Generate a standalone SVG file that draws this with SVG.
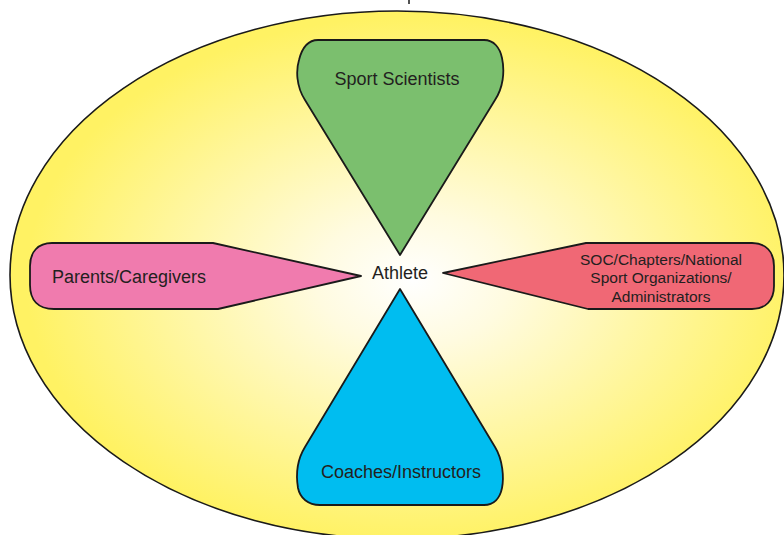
<svg xmlns="http://www.w3.org/2000/svg" width="784" height="535" viewBox="0 0 784 535">
<style>
.shape{stroke:#1a1a1a;stroke-width:1.8;stroke-linejoin:round}
.lbl{font-family:"Liberation Sans","Open Sans",sans-serif;font-size:18px;fill:#231f20;text-anchor:middle}
.sm{font-size:15.5px}
</style>
<defs>
<radialGradient id="bg" cx="0.52" cy="0.51" r="0.5">
<stop offset="0" stop-color="#ffffff"/>
<stop offset="0.25" stop-color="#fffbe0"/>
<stop offset="1" stop-color="#fff263"/>
</radialGradient>
</defs>
<rect width="784" height="535" fill="#ffffff"/>
<line x1="409" y1="0" x2="409" y2="4" stroke="#1a1a1a" stroke-width="1.5"/>
<g id="background">
<ellipse cx="397" cy="275" rx="387" ry="264" fill="url(#bg)" stroke="#1a1a1a" stroke-width="1.6"/>
</g>
<g id="sport-scientists">
<path class="shape" fill="#7bbf6e" d="M400 255 L305 100 C296 86 296 70 299 60 C302 48 308 40 318 40 L484 40 C494 40 500 48 502 58 C505 72 503 88 495 100 Z"/>
<text class="lbl" x="397" y="85">Sport Scientists</text>
</g>
<g id="parents">
<path class="shape" fill="#f07bae" d="M52 243 L213 243 L361 276 L218 309 L54 309 C38 309 30 300 30 285 L30 266 C30 252 38 243 52 243 Z"/>
<text class="lbl" x="129" y="283">Parents/Caregivers</text>
</g>
<g id="soc">
<path class="shape" fill="#f06875" d="M443 273 L586 243 L752 243 C766 243 774 252 774 266 L774 286 C774 300 766 309 752 309 L588 309 Z"/>
<text class="lbl sm" x="661" y="265">SOC/Chapters/National</text>
<text class="lbl sm" x="661" y="283">Sport Organizations/</text>
<text class="lbl sm" x="661" y="302">Administrators</text>
</g>
<g id="coaches">
<path class="shape" fill="#00bdf0" d="M400 289 L495 447 C503 460 504 478 502 488 C500 498 494 505 484 505 L320 505 C308 505 300 498 298 488 C296 476 297 460 305 447 Z"/>
<text class="lbl" x="401" y="478">Coaches/Instructors</text>
</g>
<g id="athlete">
<text class="lbl" x="400" y="279">Athlete</text>
</g>
<g id="connectors"></g>
</svg>
